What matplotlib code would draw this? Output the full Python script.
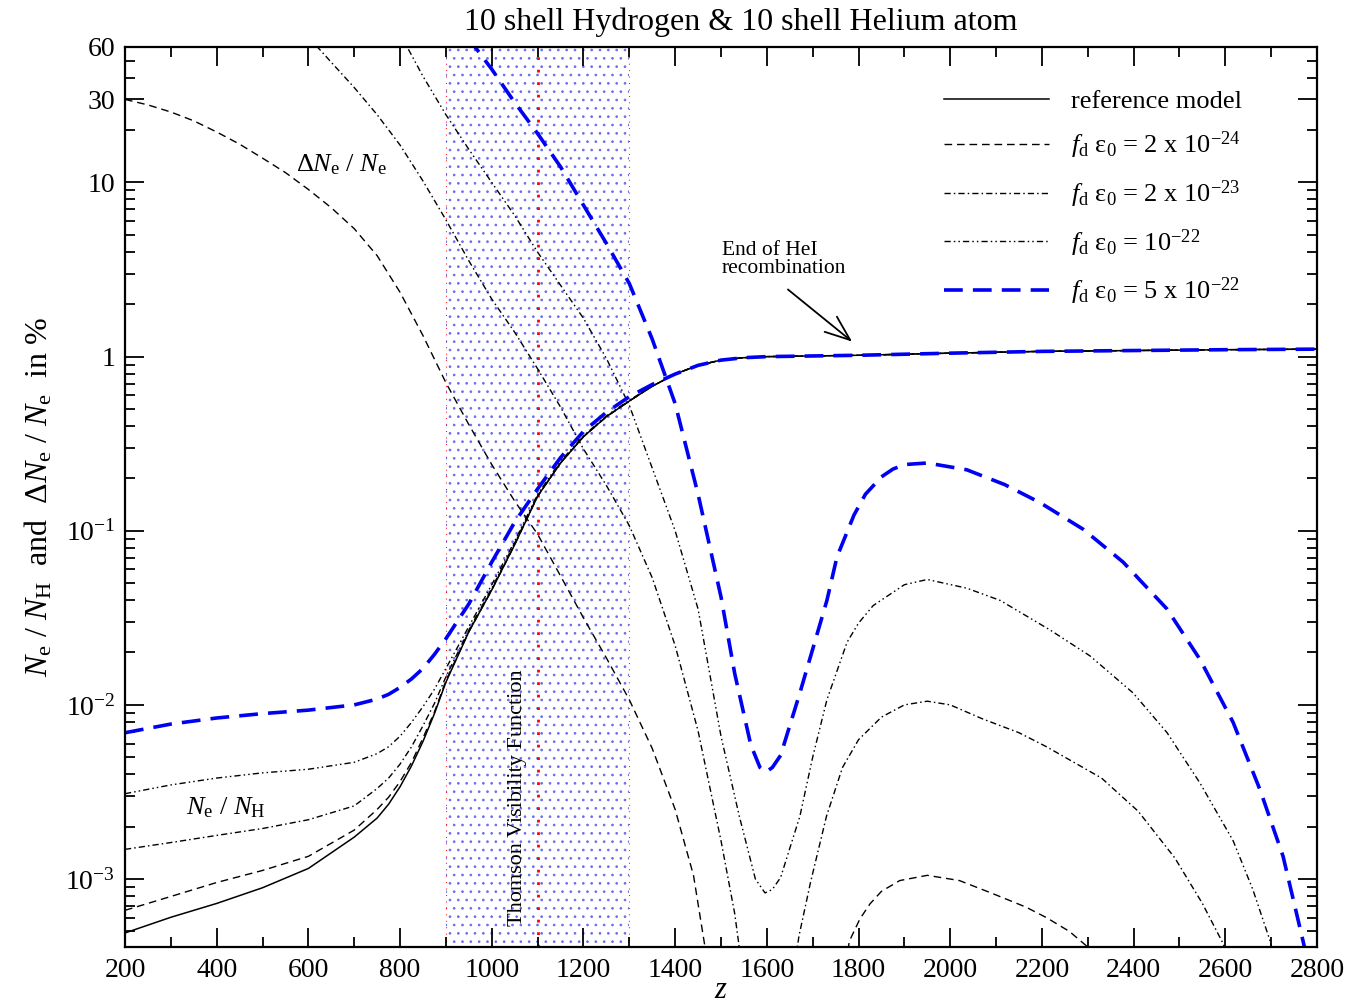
import matplotlib
matplotlib.use("Agg")
import matplotlib.pyplot as plt
from matplotlib.ticker import FixedLocator, FixedFormatter, LogLocator, MultipleLocator, NullFormatter

plt.rcParams["font.family"] = ["Liberation Serif", "DejaVu Serif"]
plt.rcParams["mathtext.fontset"] = "custom"
plt.rcParams["mathtext.rm"] = "Liberation Serif"
plt.rcParams["mathtext.it"] = "Liberation Serif:italic"
plt.rcParams["mathtext.bf"] = "Liberation Serif:bold"
plt.rcParams["hatch.linewidth"] = 0.7

# ---- data (values in %) ----
# N_e / N_H branch, shared redshift grid
z_lo = [200, 300, 400, 500, 600, 700, 750, 775, 800, 825, 850, 875, 900, 950, 1000, 1050, 1100,
        1150, 1200, 1250, 1300, 1350, 1400, 1450, 1500, 1550, 1600, 1800, 2000, 2200, 2400,
        2600, 2800]

ne_ref = [4.90e-4, 6.03e-4, 7.24e-4, 8.91e-4, 1.15e-3, 1.74e-3, 2.24e-3, 2.69e-3, 3.39e-3,
          4.47e-3, 6.17e-3, 8.91e-3, 1.35e-2, 2.63e-2, 4.57e-2, 8.32e-2, 0.158, 0.245, 0.347,
          0.452, 0.556, 0.676, 0.794, 0.891, 0.955, 0.986, 1.0, 1.018, 1.047, 1.072, 1.084,
          1.096, 1.104]
ne_2e24 = [6.61e-4, 7.94e-4, 9.55e-4, 1.12e-3, 1.35e-3, 1.91e-3, 2.51e-3, 2.95e-3, 3.63e-3,
           4.68e-3, 6.46e-3, 9.12e-3, 1.38e-2, 2.63e-2, 4.57e-2, 8.32e-2, 0.158, 0.245, 0.347,
           0.452, 0.556, 0.676, 0.794, 0.891, 0.955, 0.986, 1.0, 1.018, 1.047, 1.072, 1.084,
           1.096, 1.104]
ne_2e23 = [1.48e-3, 1.62e-3, 1.78e-3, 1.95e-3, 2.19e-3, 2.63e-3, 3.31e-3, 3.80e-3, 4.57e-3,
           5.75e-3, 7.59e-3, 1.02e-2, 1.45e-2, 2.69e-2, 4.68e-2, 8.51e-2, 0.158, 0.245, 0.347,
           0.452, 0.556, 0.676, 0.794, 0.891, 0.955, 0.986, 1.0, 1.018, 1.047, 1.072, 1.084,
           1.096, 1.104]
ne_1e22 = [3.09e-3, 3.47e-3, 3.80e-3, 4.07e-3, 4.27e-3, 4.68e-3, 5.25e-3, 5.75e-3, 6.61e-3,
           7.94e-3, 9.77e-3, 1.23e-2, 1.62e-2, 2.82e-2, 4.90e-2, 8.71e-2, 0.162, 0.251, 0.351,
           0.457, 0.562, 0.676, 0.794, 0.891, 0.955, 0.986, 1.0, 1.018, 1.047, 1.072, 1.084,
           1.096, 1.104]
ne_5e22 = [6.92e-3, 7.76e-3, 8.41e-3, 8.91e-3, 9.33e-3, 1.00e-2, 1.08e-2, 1.15e-2, 1.26e-2,
           1.41e-2, 1.62e-2, 1.95e-2, 2.40e-2, 3.80e-2, 6.61e-2, 0.112, 0.174, 0.263, 0.372,
           0.479, 0.589, 0.692, 0.794, 0.891, 0.955, 0.986, 1.0, 1.018, 1.047, 1.072, 1.084,
           1.096, 1.104]

# Delta N_e / N_e branches
dz_2e24_a = [200, 250, 300, 350, 400, 450, 500, 550, 600, 650, 700, 750, 800, 850, 900, 950,
             1000, 1050, 1100, 1150, 1200, 1250, 1300, 1350, 1400, 1440, 1475]
dn_2e24_a = [30.0, 27.9, 25.4, 22.6, 19.5, 16.6, 13.8, 11.4, 9.12, 7.16, 5.43, 3.80, 2.34, 1.32,
             0.708, 0.407, 0.240, 0.148, 0.0955, 0.0550, 0.0316, 0.0186, 0.0107, 5.62e-3,
             2.51e-3, 1.05e-3, 2.8e-4]
dz_2e24_b = [1768, 1780, 1803, 1825, 1850, 1890, 1950, 2020, 2090, 2165, 2210, 2260, 2300, 2320]
dn_2e24_b = [2.8e-4, 4.4e-4, 5.9e-4, 7.2e-4, 8.5e-4, 9.8e-4, 1.05e-3, 9.8e-4, 8.3e-4, 6.9e-4,
             6.0e-4, 5.0e-4, 4.07e-4, 3.55e-4]

dz_2e23_a = [600, 619, 650, 700, 750, 800, 850, 900, 950, 1000, 1050, 1100, 1150, 1200, 1250,
             1300, 1350, 1400, 1450, 1500, 1530, 1548]
dn_2e23_a = [70.8, 60.3, 49.0, 35.1, 24.5, 16.4, 10.2, 6.10, 3.55, 2.14, 1.38, 0.851, 0.513, 0.295,
             0.182, 0.107, 0.0537, 0.0219, 7.08e-3, 1.66e-3, 6.31e-4, 2.8e-4]
dz_2e23_b = [1655, 1670, 1695, 1730, 1765, 1800, 1850, 1900, 1950, 2000, 2070, 2150, 2210, 2330,
             2410, 2490, 2550, 2595, 2612]
dn_2e23_b = [2.5e-4, 4.7e-4, 9.5e-4, 2.29e-3, 4.37e-3, 6.31e-3, 8.51e-3, 1.0e-2, 1.05e-2, 1.0e-2,
             8.32e-3, 6.92e-3, 5.75e-3, 3.80e-3, 2.45e-3, 1.32e-3, 7.24e-4, 4.27e-4, 3.16e-4]

dz_1e22 = [800, 815, 850, 900, 950, 1000, 1050, 1100, 1150, 1200, 1250, 1300, 1350, 1400, 1450,
           1500, 1540, 1575, 1596, 1612, 1630, 1672, 1700, 1731, 1775, 1800, 1832, 1900, 1950,
           2036, 2109, 2218, 2305, 2399, 2473, 2545, 2617, 2660, 2697, 2712]
dn_1e22 = [72.4, 60.3, 40.7, 24.5, 15.5, 10.0, 6.46, 3.98, 2.57, 1.66, 0.977, 0.525, 0.229, 0.100,
           0.0355, 6.61e-3, 2.29e-3, 1.0e-3, 8.32e-4, 8.71e-4, 1.02e-3, 2.29e-3, 5.01e-3, 1.07e-2,
           2.29e-2, 2.95e-2, 3.72e-2, 4.90e-2, 5.25e-2, 4.68e-2, 3.98e-2, 2.69e-2, 1.91e-2,
           1.17e-2, 6.92e-3, 3.55e-3, 1.66e-3, 8.71e-4, 4.47e-4, 3.16e-4]

dz_5e22 = [950, 963, 1000, 1050, 1100, 1150, 1200, 1250, 1300, 1350, 1400, 1450, 1500, 1530,
           1565, 1585, 1598, 1612, 1630, 1672, 1700, 1731, 1753, 1790, 1815, 1850, 1875, 1900,
           1950, 2036, 2119, 2196, 2290, 2377, 2473, 2545, 2617, 2676, 2726, 2769, 2782]
dn_5e22 = [69.2, 60.3, 44.7, 28.8, 19.1, 12.3, 7.41, 4.47, 2.63, 1.26, 0.537, 0.162, 0.0417, 0.0151,
           5.89e-3, 4.37e-3, 4.12e-3, 4.37e-3, 5.13e-3, 1.17e-2, 2.09e-2, 3.98e-2, 7.08e-2, 0.123,
           0.162, 0.204, 0.226, 0.240, 0.245, 0.224, 0.184, 0.145, 0.102, 0.0661, 0.0355,
           0.0182, 7.94e-3, 3.24e-3, 1.35e-3, 4.47e-4, 3.16e-4]

y_ticks = [1e-3, 1e-2, 1e-1, 1, 10, 30, 60]
y_ticklabels = [r"10$^{-3}$", r"10$^{-2}$", r"10$^{-1}$", "1", "10", "30", "60"]

labels = ["reference model",
          r"$f_{\rm d}$ ε$_0$ = 2 x 10$^{-24}$",
          r"$f_{\rm d}$ ε$_0$ = 2 x 10$^{-23}$",
          r"$f_{\rm d}$ ε$_0$ = 10$^{-22}$",
          r"$f_{\rm d}$ ε$_0$ = 5 x 10$^{-22}$"]

# ---- styles ----
st_ref = dict(color="black", lw=1.1)
st_2e24 = dict(color="black", lw=1.0, dashes=(5.5, 3.5))
st_2e23 = dict(color="black", lw=1.0, dashes=(4.5, 2.2, 1.1, 2.2))
st_1e22 = dict(color="black", lw=1.0, dashes=(4.5, 2.2, 1.1, 2.2, 1.1, 2.2))
st_5e22 = dict(color=(0.0, 0.0, 0.95), lw=2.6, dashes=(5.2, 2.8))

fig = plt.figure(figsize=(13.5, 10.06), dpi=100)
ax = fig.add_axes([125 / 1350, 1 - 947 / 1006, 1192 / 1350, 900 / 1006])

# Thomson visibility band
ax.axvspan(900, 1300, facecolor="none", edgecolor=(0.42, 0.42, 0.95), hatch="..", lw=0, zorder=0)
ax.axvline(900, color="red", lw=0.8, dashes=(0.8, 5), zorder=1)
ax.axvline(1300, color="red", lw=0.8, dashes=(0.8, 5), zorder=1)
ax.axvline(1100, color="red", lw=2.0, dashes=(1, 3.5), zorder=1)

h_ref, = ax.plot(z_lo, ne_ref, **st_ref)
h_a, = ax.plot(z_lo, ne_2e24, **st_2e24)
ax.plot(dz_2e24_a, dn_2e24_a, **st_2e24)
ax.plot(dz_2e24_b, dn_2e24_b, **st_2e24)
h_b, = ax.plot(z_lo, ne_2e23, **st_2e23)
ax.plot(dz_2e23_a, dn_2e23_a, **st_2e23)
ax.plot(dz_2e23_b, dn_2e23_b, **st_2e23)
h_c, = ax.plot(z_lo, ne_1e22, **st_1e22)
ax.plot(dz_1e22, dn_1e22, **st_1e22)
h_d, = ax.plot(z_lo, ne_5e22, **st_5e22)
ax.plot(dz_5e22, dn_5e22, **st_5e22)

ax.set_yscale("log")
ax.set_xlim(200, 2800)
ax.set_ylim(4.07e-4, 60)

ax.xaxis.set_major_locator(MultipleLocator(200))
ax.xaxis.set_minor_locator(MultipleLocator(100))
ax.yaxis.set_major_locator(FixedLocator(y_ticks))
ax.yaxis.set_major_formatter(FixedFormatter(y_ticklabels))
ax.yaxis.set_minor_locator(LogLocator(base=10, subs=range(2, 10), numticks=20))
ax.yaxis.set_minor_formatter(NullFormatter())

ax.tick_params(which="both", direction="in", top=True, right=True, width=1.3)
ax.tick_params(which="major", length=14, labelsize=20)
ax.tick_params(axis="x", which="major", pad=8)
ax.tick_params(axis="y", which="major", pad=7)
ax.tick_params(which="minor", length=7)
for s in ax.spines.values():
    s.set_linewidth(1.6)

ax.set_xlabel(r"$z$", fontsize=22, labelpad=-5)
ax.set_ylabel(r"$N_{\rm e}$ / $N_{\rm H}$  and  Δ$N_{\rm e}$ / $N_{\rm e}$  in %", fontsize=23, labelpad=8)
fig.text(741 / 1350, 1 - 22 / 1006, "10 shell Hydrogen & 10 shell Helium atom",
         fontsize=23, ha="center", va="center")

ax.text(673, 12.7, r"Δ$N_{\rm e}$ / $N_{\rm e}$", fontsize=19, ha="center", va="center")
ax.text(420, 2.57e-3, r"$N_{\rm e}$ / $N_{\rm H}$", fontsize=19, ha="center", va="center")
ax.text(1057, 2.95e-3, "Thomson Visibility Function", fontsize=16, rotation=90,
        ha="center", va="center")
ax.text(1502, 3.6, "End of HeI\nrecombination", fontsize=15.5, ha="left", va="center",
        linespacing=0.95)
ax.annotate("", xy=(1786, 1.22), xytext=(1646, 2.43),
            arrowprops=dict(arrowstyle="->,head_length=0.9,head_width=0.35", lw=1.3,
                            color="black", mutation_scale=20, shrinkA=0, shrinkB=0))

ax.legend([h_ref, h_a, h_b, h_c, h_d], labels, loc="upper left",
          bbox_to_anchor=(0.687, 0.953), frameon=False, fontsize=19,
          handlelength=4.0, handletextpad=0.8, labelspacing=0.65,
          borderpad=0, borderaxespad=0)

fig.savefig("out.png", dpi=100)
